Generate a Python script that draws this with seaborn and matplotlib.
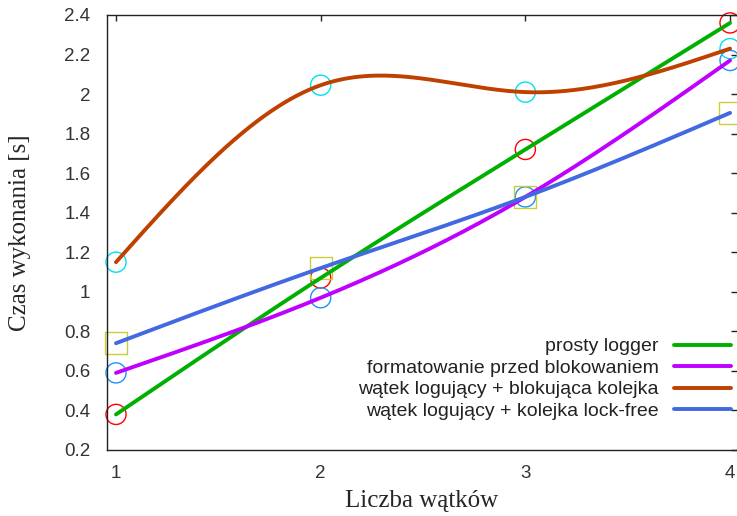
import numpy as np
import pandas as pd
import matplotlib
matplotlib.use("Agg")
import matplotlib.pyplot as plt
from matplotlib.ticker import FuncFormatter
import seaborn as sns

# Data
threads = [1, 2, 3, 4]
simple_logger = [0.38, 1.07, 1.72, 2.36]
format_before_lock = [0.59, 0.97, 1.48, 2.17]
thread_blocking_queue = [1.15, 2.045, 2.01, 2.23]
thread_lockfree_queue = [0.74, 1.12, 1.48, 1.905]

labels = [
    "prosty logger",
    "formatowanie przed blokowaniem",
    "wątek logujący + blokująca kolejka",
    "wątek logujący + kolejka lock-free",
]
line_colors = ["#00b000", "#c000ff", "#c04000", "#4169e1"]
marker_colors = ["#ff0000", "#1e90ff", "#00e0f0", "#cccc33"]
marker_shapes = ["o", "o", "o", "s"]
yticks = [0.2, 0.4, 0.6, 0.8, 1.0, 1.2, 1.4, 1.6, 1.8, 2.0, 2.2, 2.4]


def natural_spline(x, y, n=300):
    # same smoothing as gnuplot's "smooth csplines"
    x = np.asarray(x, float)
    y = np.asarray(y, float)
    k = len(x)
    h = np.diff(x)
    A = np.zeros((k, k))
    b = np.zeros(k)
    A[0, 0] = A[-1, -1] = 1
    for i in range(1, k - 1):
        A[i, i - 1] = h[i - 1]
        A[i, i] = 2 * (h[i - 1] + h[i])
        A[i, i + 1] = h[i]
        b[i] = 3 * ((y[i + 1] - y[i]) / h[i] - (y[i] - y[i - 1]) / h[i - 1])
    c = np.linalg.solve(A, b)
    xs = np.linspace(x[0], x[-1], n)
    idx = np.clip(np.searchsorted(x, xs) - 1, 0, k - 2)
    t = xs - x[idx]
    bb = (y[idx + 1] - y[idx]) / h[idx] - h[idx] * (2 * c[idx] + c[idx + 1]) / 3
    dd = (c[idx + 1] - c[idx]) / (3 * h[idx])
    return xs, y[idx] + bb * t + c[idx] * t ** 2 + dd * t ** 3


series = [simple_logger, format_before_lock, thread_blocking_queue, thread_lockfree_queue]

sns.set_style("white")
plt.rcParams["font.family"] = ["Liberation Sans", "DejaVu Sans"]

fig = plt.figure(figsize=(7.37, 5.16), dpi=100)
ax = fig.add_axes([107 / 737, 66 / 516, 630 / 737, 435 / 516])

for vals, lab, lc, mc, mk in zip(series, labels, line_colors, marker_colors, marker_shapes):
    pts = pd.DataFrame({"threads": threads, "time": vals})
    sns.scatterplot(data=pts, x="threads", y="time", marker=mk,
                    s=250 if mk == "s" else 210, facecolor="none",
                    edgecolor=mc, linewidth=1.0, ax=ax, zorder=2,
                    clip_on=False, legend=False)
    xs, ys = natural_spline(threads, vals)
    curve = pd.DataFrame({"threads": xs, "time": ys})
    sns.lineplot(data=curve, x="threads", y="time", color=lc, lw=2.8,
                 estimator=None, sort=False, label=lab, ax=ax, zorder=3)

ax.set_xlim(0.956, 4.034)
ax.set_ylim(0.2, 2.4)
ax.set_xticks(threads)
ax.set_yticks(yticks)
ax.yaxis.set_major_formatter(FuncFormatter(lambda v, p: f"{v:g}"))

ax.tick_params(direction="in", length=4.5, width=1, color="#222222",
               labelsize=13.5, labelcolor="#333333", top=True, right=True)
ax.tick_params(axis="y", pad=12)
ax.tick_params(axis="x", pad=11)
for side in ["left", "bottom", "top"]:
    ax.spines[side].set_color("#222222")
    ax.spines[side].set_linewidth(1.0)
ax.spines["right"].set_visible(False)

ax.set_xlabel("Liczba wątków", family="Liberation Serif", fontsize=18)
ax.set_ylabel("Czas wykonania [s]", family="Liberation Serif", fontsize=18)
ax.xaxis.set_label_coords(0.5, -0.092)
ax.yaxis.set_label_coords(-0.12, 0.5)

leg = ax.legend(loc="lower right", bbox_to_anchor=(0.99, 0.069), frameon=False,
                markerfirst=False, fontsize=14, handlelength=2.9,
                handletextpad=0.8, labelspacing=0.2, borderpad=0,
                borderaxespad=0)
for col in leg._legend_handle_box.get_children():
    col.align = "right"
for t in leg.get_texts():
    t.set_color("#222222")

fig.savefig("out.png", dpi=100)
